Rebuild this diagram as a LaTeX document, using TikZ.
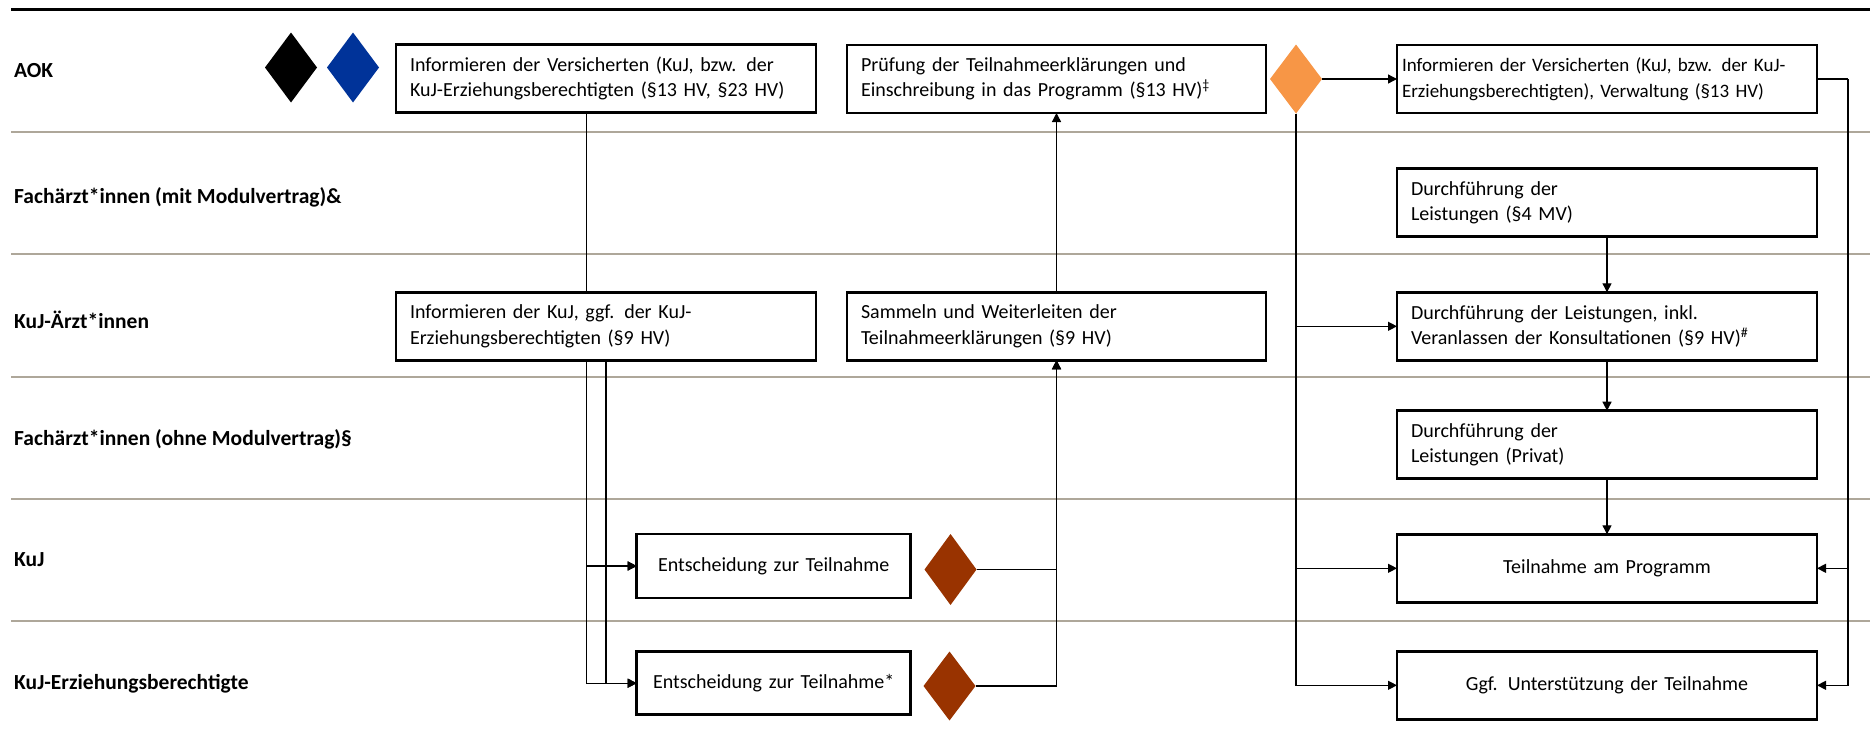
\documentclass[tikz,border=0pt]{standalone}
\usepackage{fontspec}
\setmainfont{Carlito}
\usetikzlibrary{arrows.meta,shapes.geometric,calc}
\definecolor{lanegray}{RGB}{174,167,154}
\definecolor{aokorange}{RGB}{247,150,70}
\definecolor{decbrown}{RGB}{153,51,0}
\definecolor{aokblue}{RGB}{0,51,153}
\pgfdeclarelayer{bg}
\pgfsetlayers{bg,main}

\begin{document}
\begin{tikzpicture}[x=1pt,y=-1pt,
  laneline/.style={draw=lanegray,line width=2pt},
  lanelabel/.style={anchor=west,inner sep=0pt,font=\fontsize{21.5}{25}\selectfont\bfseries},
  taskbox/.style={draw=black,line width=2.5pt,fill=white,anchor=north west,outer sep=0pt,
    font=\fontsize{20}{25.5}\selectfont,inner xsep=14pt,inner ysep=0pt},
  widebox/.style={taskbox,minimum width=420pt,minimum height=68pt,text width=392pt,align=left},
  widecenter/.style={taskbox,minimum width=420pt,minimum height=68pt,text width=392pt,align=center},
  smallbox/.style={taskbox,minimum width=274pt,minimum height=64pt,text width=246pt,align=center},
  gate/.style={diamond,draw=none,inner sep=0pt,outer sep=0pt,minimum width=52pt,minimum height=70pt},
  conn/.style={line width=1.3pt},
  arr/.style={conn,-{Triangle[length=9pt,width=9pt]}}
]
\useasboundingbox (0,0) rectangle (1870,739);

% lane frame
\begin{pgfonlayer}{bg}
  \draw[line width=3pt] (11,9.5) -- (1870,9.5);
  \foreach \yy in {131.5,254,377,499,620.5}
    \draw[laneline] (11,\yy) -- (1870,\yy);
\end{pgfonlayer}

% lane labels
\node[lanelabel] (lAOK) at (14,70.5) {AOK};
\node[lanelabel] (lFmit) at (14,197) {Fachärzt*innen (mit Modulvertrag)\&};
\node[lanelabel] (lKA) at (14,320) {KuJ-Ärzt*innen};
\node[lanelabel] (lFohne) at (14,439) {Fachärzt*innen (ohne Modulvertrag)§};
\node[lanelabel] (lKuJ) at (14,560) {KuJ};
\node[lanelabel] (lEB) at (14,684) {KuJ-Erziehungsberechtigte};

% start gates
\node[gate,fill=black] (Dblack) at (291,67.5) {};
\node[gate,fill=aokblue] (Dblue) at (353,67.5) {};

% AOK lane
\node[widebox] (A1) at (396,44.5)
  {Informieren der Versicherten (KuJ, bzw. der\\KuJ-Erziehungsberechtigten (§13 HV, §23 HV)};
\node[widebox,minimum width=419pt,text width=391pt] (A2) at (847,45)
  {Prüfung der Teilnahmeerklärungen und\\Einschreibung in das Programm (§13 HV)\textsuperscript{‡}};
\node[gate,fill=aokorange,minimum height=69pt] (Dor) at (1296,79) {};
\node[widebox,inner xsep=5pt,text width=410pt,font=\fontsize{19}{25.5}\selectfont] (A3) at (1397,45)
  {Informieren der Versicherten (KuJ, bzw. der KuJ-\\Erziehungsberechtigten), Verwaltung (§13 HV)};

% Fachaerzt*innen mit Modulvertrag
\node[widebox] (F1) at (1397,168.7)
  {Durchführung der\\Leistungen (§4 MV)};

% KuJ-Aerzt*innen
\node[widebox] (K1) at (396,292.3)
  {Informieren der KuJ, ggf. der KuJ-\\Erziehungsberechtigten (§9 HV)};
\node[widebox,minimum width=419pt,text width=391pt] (K2) at (847,292.3)
  {Sammeln und Weiterleiten der\\Teilnahmeerklärungen (§9 HV)};
\node[widebox] (K3) at (1397,292.3)
  {Durchführung der Leistungen, inkl.\\Veranlassen der Konsultationen (§9 HV)\textsuperscript{\#}};

% Fachaerzt*innen ohne Modulvertrag
\node[widebox] (F2) at (1397,410.7)
  {Durchführung der\\Leistungen (Privat)};

% KuJ
\node[smallbox] (J1) at (636.7,534) {Entscheidung zur Teilnahme};
\node[gate,fill=decbrown,minimum height=71pt] (DJ) at (950.5,569.5) {};
\node[widecenter] (J2) at (1397,534.3) {Teilnahme am Programm};

% KuJ-Erziehungsberechtigte
\node[smallbox,minimum height=63pt] (E1) at (636.7,651.7) {Entscheidung zur Teilnahme*};
\node[gate,fill=decbrown,minimum height=69pt] (DE) at (949.5,686) {};
\node[widecenter] (E2) at (1397,651.3) {Ggf. Unterstützung der Teilnahme};

% connectors
\begin{pgfonlayer}{bg}
  \coordinate (a1out) at ($(A1.south)+(-19.5,0)$);
  \draw[arr] (a1out) |- (J1.west);
  \draw[arr] (a1out) |- (E1.west);
  \draw[arr] (K1.south) |- (J1.west);
  \draw[arr] (K1.south) |- (E1.west);
  \draw[arr] (DJ.east) -| (K2.south);
  \draw[arr] (DE.east) -| (K2.south);
  \draw[arr] (K2.north) -- (A2.south);
  \draw[arr] (Dor.east) -- (Dor.east -| A3.west);
  \draw[arr] (Dor.south) |- (K3.west);
  \draw[arr] (Dor.south) |- (J2.west);
  \draw[arr] (Dor.south) |- (E2.west);
  \coordinate (rt) at ($(A3.east)+(31,0)$);
  \draw[conn] (A3.east) -- (rt);
  \draw[arr] (rt) |- (J2.east);
  \draw[arr] (rt) |- (E2.east);
  \draw[arr] (F1.south) -- (K3.north);
  \draw[arr] (K3.south) -- (F2.north);
  \draw[arr] (F2.south) -- (J2.north);
\end{pgfonlayer}
\end{tikzpicture}
\end{document}
